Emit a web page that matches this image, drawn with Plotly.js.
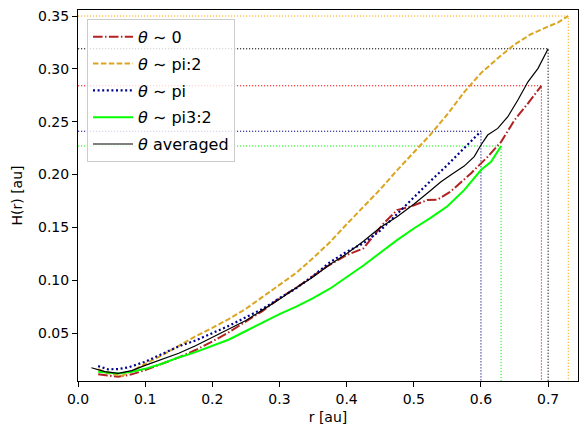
<!DOCTYPE html>
<html>
<head>
<meta charset="utf-8">
<script src="https://cdn.plot.ly/plotly-3.0.1.min.js"></script>
<style>
  html, body { margin: 0; padding: 0; background: #fff; }
  #chart { width: 583px; height: 436px; }
</style>
</head>
<body>
<div id="chart"></div>
<script>
// Scale height H(r) for four azimuthal directions and their average
const labels = ["<i>θ</i> ∼ 0", "<i>θ</i> ∼ pi:2", "<i>θ</i> ∼ pi", "<i>θ</i> ∼ pi3:2", "<i>θ</i> averaged"];

const r0 = [0.03, 0.045, 0.06, 0.08, 0.10, 0.125, 0.15, 0.175, 0.20, 0.225, 0.25, 0.275, 0.30, 0.325, 0.35, 0.37, 0.40, 0.425, 0.455, 0.475, 0.495, 0.52, 0.535, 0.555, 0.585, 0.61, 0.63, 0.65, 0.67, 0.683, 0.69];
const h0 = [0.011, 0.0095, 0.0087, 0.011, 0.015, 0.021, 0.027, 0.034, 0.042, 0.051, 0.061, 0.071, 0.083, 0.093, 0.104, 0.1128, 0.1238, 0.1302, 0.1538, 0.1664, 0.1696, 0.1759, 0.1762, 0.184, 0.2011, 0.2169, 0.231, 0.2516, 0.2674, 0.2784, 0.284];

const r90 = [0.03, 0.045, 0.065, 0.08, 0.10, 0.125, 0.15, 0.175, 0.20, 0.225, 0.25, 0.275, 0.30, 0.325, 0.35, 0.375, 0.40, 0.425, 0.45, 0.475, 0.50, 0.525, 0.55, 0.575, 0.60, 0.625, 0.65, 0.675, 0.70, 0.715, 0.73];
const h90 = [0.016, 0.012, 0.0095, 0.014, 0.021, 0.029, 0.038, 0.047, 0.055, 0.0635, 0.073, 0.0845, 0.096, 0.107, 0.121, 0.136, 0.153, 0.169, 0.186, 0.204, 0.221, 0.238, 0.257, 0.278, 0.296, 0.310, 0.323, 0.333, 0.340, 0.344, 0.350];

const r180 = [0.03, 0.045, 0.06, 0.075, 0.10, 0.125, 0.15, 0.175, 0.20, 0.225, 0.25, 0.275, 0.30, 0.325, 0.35, 0.375, 0.40, 0.425, 0.45, 0.475, 0.50, 0.525, 0.55, 0.575, 0.59, 0.60];
const h180 = [0.0188, 0.0157, 0.016, 0.0176, 0.0229, 0.030, 0.0375, 0.043, 0.050, 0.057, 0.065, 0.073, 0.083, 0.0925, 0.104, 0.117, 0.127, 0.135, 0.147, 0.163, 0.179, 0.194, 0.209, 0.2248, 0.2343, 0.241];

const r270 = [0.03, 0.06, 0.08, 0.10, 0.125, 0.15, 0.175, 0.20, 0.225, 0.25, 0.275, 0.30, 0.325, 0.35, 0.375, 0.40, 0.425, 0.45, 0.475, 0.50, 0.525, 0.55, 0.575, 0.60, 0.615, 0.63];
const h270 = [0.0134, 0.0118, 0.0135, 0.0162, 0.021, 0.027, 0.032, 0.038, 0.044, 0.052, 0.060, 0.068, 0.075, 0.083, 0.092, 0.103, 0.114, 0.126, 0.138, 0.149, 0.159, 0.170, 0.1853, 0.2043, 0.2121, 0.227];

const rAvg = [0.02, 0.04, 0.06, 0.08, 0.10, 0.125, 0.15, 0.175, 0.20, 0.225, 0.25, 0.275, 0.30, 0.325, 0.35, 0.375, 0.40, 0.425, 0.45, 0.475, 0.50, 0.525, 0.54, 0.555, 0.575, 0.59, 0.60, 0.61, 0.625, 0.64, 0.655, 0.67, 0.685, 0.70];
const hAvg = [0.0172, 0.0135, 0.012, 0.0145, 0.0195, 0.025, 0.031, 0.038, 0.046, 0.054, 0.062, 0.072, 0.082, 0.093, 0.103, 0.115, 0.125, 0.137, 0.150, 0.160, 0.172, 0.185, 0.193, 0.1995, 0.208, 0.217, 0.228, 0.2374, 0.2437, 0.2547, 0.2705, 0.2878, 0.3005, 0.319];

const series = [
  { r: r0,   h: h0,   color: "#b22222", guide: "#ff0000", dash: "9.6px,2.4px,1.5px,2.4px", width: 2 },
  { r: r90,  h: h90,  color: "#daa520", guide: "#ffa500", dash: "5.5px,2.4px",             width: 2 },
  { r: r180, h: h180, color: "#00008b", guide: "#00008b", dash: "2px,2.6px",               width: 2.2 },
  { r: r270, h: h270, color: "#00ff00", guide: "#00ff00", dash: "solid",                   width: 2 },
  { r: rAvg, h: hAvg, color: "#000000", guide: "#000000", dash: "solid",                   width: 1.2 }
];

const traces = [];
// dotted guides from the axes to each curve's outer end point
series.forEach(s => {
  const n = s.r.length - 1;
  const xe = s.r[n], ye = s.h[n];
  traces.push({
    x: [0, xe, xe], y: [ye, ye, 0],
    mode: "lines", showlegend: false, hoverinfo: "skip",
    line: { color: s.guide, width: 1, dash: "1.2px,1.8px" }
  });
});
series.forEach((s, i) => {
  traces.push({
    x: s.r, y: s.h, name: labels[i], legendgroup: "g" + i,
    mode: "lines",
    line: { color: s.color, width: s.width, dash: s.dash }
  });
});

const axisCommon = {
  showline: true, mirror: true, linecolor: "#000", linewidth: 1,
  ticks: "outside", ticklen: 5, tickwidth: 1, tickcolor: "#000",
  showgrid: false, zeroline: false,
  tickfont: { family: "DejaVu Sans", size: 14, color: "#000" }
};

const layout = {
  width: 583, height: 436,
  margin: { l: 78, r: 5, t: 10, b: 55 },
  paper_bgcolor: "#fff", plot_bgcolor: "#fff",
  font: { family: "DejaVu Sans", size: 14, color: "#000" },
  xaxis: Object.assign({}, axisCommon, {
    range: [0, 0.7445], tickvals: [0, 0.1, 0.2, 0.3, 0.4, 0.5, 0.6, 0.7], tickformat: ".1f",
    title: { text: "r [au]", font: { family: "DejaVu Sans", size: 14 }, standoff: 6 }
  }),
  yaxis: Object.assign({}, axisCommon, {
    range: [0.0047, 0.3557], tickvals: [0.05, 0.10, 0.15, 0.20, 0.25, 0.30, 0.35], tickformat: ".2f",
    title: { text: "H(r) [au]", font: { family: "DejaVu Sans", size: 14 }, standoff: 12 }
  }),
  legend: {
    x: 0.018, y: 0.976, xanchor: "left", yanchor: "top",
    bgcolor: "rgba(255,255,255,0.8)", bordercolor: "#cccccc", borderwidth: 1,
    font: { family: "DejaVu Sans", size: 16, color: "#000" },
    traceorder: "grouped", tracegroupgap: 3, itemwidth: 40
  },
  showlegend: true
};

Plotly.newPlot("chart", traces, layout, { displayModeBar: false, staticPlot: true });
</script>
</body>
</html>
